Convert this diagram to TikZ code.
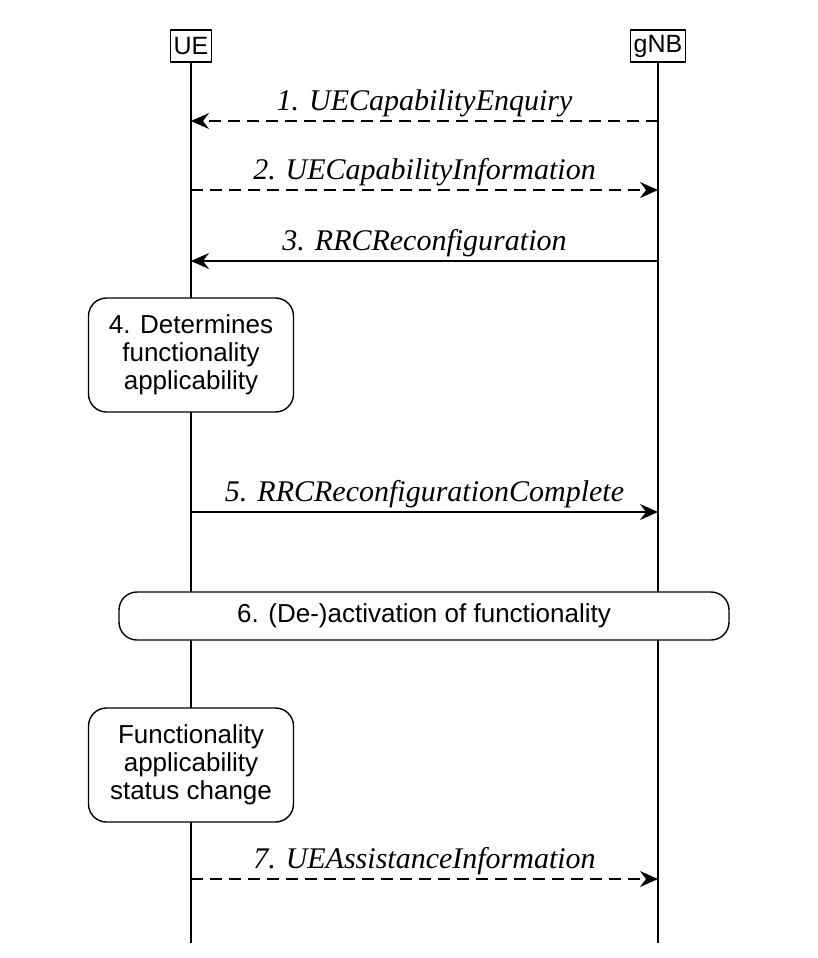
\documentclass[tikz,border=0pt]{standalone}
\usepackage{fontspec}
\setmainfont{Liberation Serif}
\setsansfont{Liberation Sans}
\usetikzlibrary{arrows.meta}
\begin{document}
\begin{tikzpicture}[x=1pt,y=-1pt,
  ent/.style={draw,fill=white,line width=1.4pt,font=\sffamily\fontsize{25}{28}\selectfont,minimum height=32pt,inner sep=3pt},
  life/.style={line width=1.5pt},
  msg/.style={line width=1.5pt,-{Stealth[length=18pt,width=16pt,inset=6pt]}},
  dmsg/.style={msg,dash pattern=on 12pt off 7pt},
  lab/.style={font=\itshape\fontsize{30}{34}\selectfont,above,inner sep=3pt},
  rbox/.style={draw,fill=white,line width=1.4pt,rounded corners=18pt,align=center,font=\sffamily\fontsize{26}{28}\selectfont}]
\useasboundingbox (0,0) rectangle (818,958);
\coordinate (ueend) at (191,943);
\coordinate (gnbend) at (658,943);
\draw[life] (191,46) -- (ueend);
\draw[life] (658,46) -- (gnbend);
\node[ent,minimum width=40pt] (ue) at (191,46) {UE};
\node[ent,minimum width=44pt] (gnb) at (658,46) {gNB};
\node[rbox,minimum width=205pt,minimum height=114pt] (b4) at (191,355) {4. Determines\\functionality\\applicability};
\node[rbox,minimum width=610pt,minimum height=48pt] (b6) at (424,616) {6. (De-)activation of functionality};
\node[rbox,minimum width=205pt,minimum height=114pt] (b7) at (191,765) {Functionality\\applicability\\status change};
\coordinate (g1) at (658,121); \coordinate (u1) at (191,121);
\coordinate (g2) at (658,190); \coordinate (u2) at (191,190);
\coordinate (g3) at (658,261); \coordinate (u3) at (191,261);
\coordinate (g5) at (658,512); \coordinate (u5) at (191,512);
\coordinate (g7) at (658,879); \coordinate (u7) at (191,879);
\draw[dmsg] (g1) -- node[lab]{1. UECapabilityEnquiry} (u1);
\draw[dmsg] (u2) -- node[lab]{2. UECapabilityInformation} (g2);
\draw[msg] (g3) -- node[lab]{3. RRCReconfiguration} (u3);
\draw[msg] (u5) -- node[lab]{5. RRCReconfigurationComplete} (g5);
\draw[dmsg] (u7) -- node[lab]{7. UEAssistanceInformation} (g7);
\end{tikzpicture}
\end{document}
